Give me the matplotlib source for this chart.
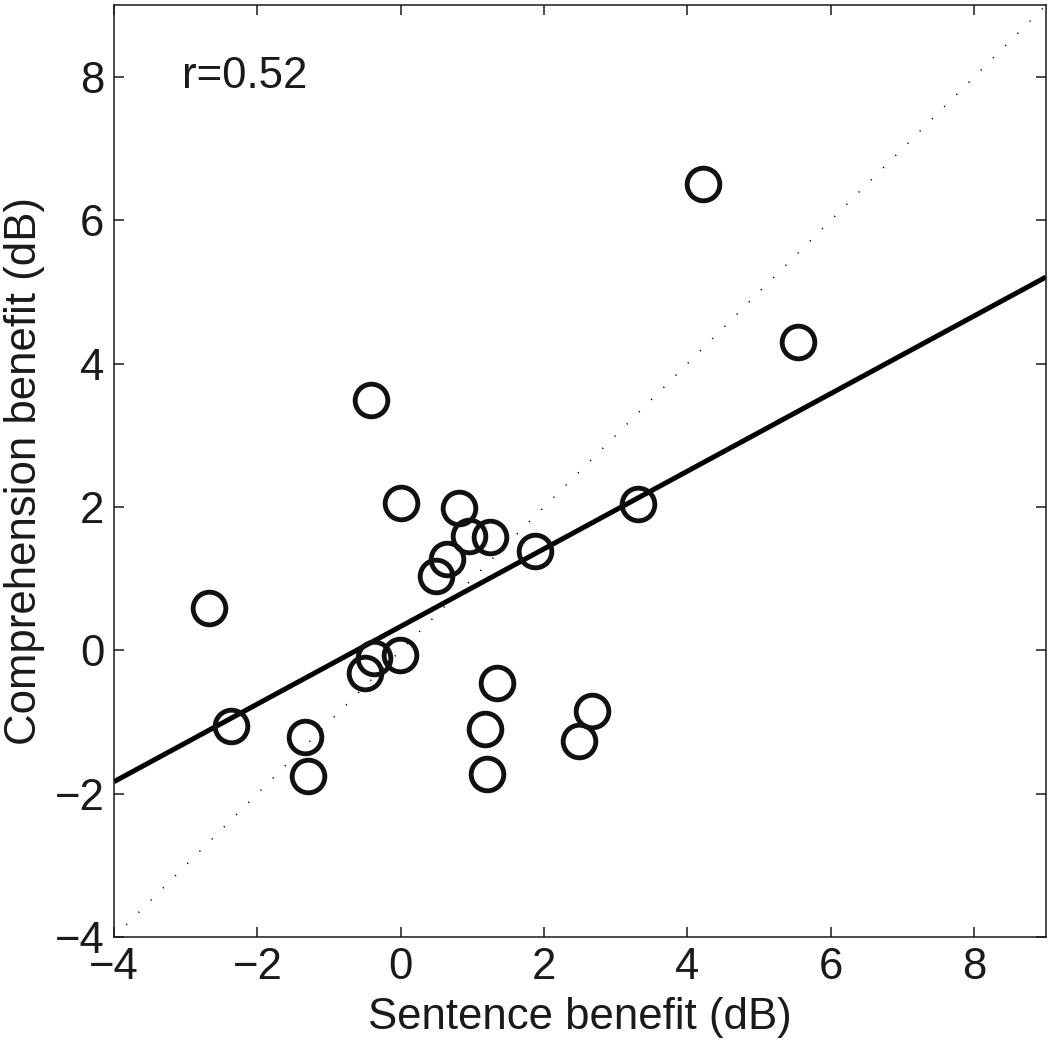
import numpy as np
import matplotlib
matplotlib.use("Agg")
import matplotlib.pyplot as plt

plt.rcParams['font.family'] = ['Liberation Sans', 'DejaVu Sans']

sentence_benefit = [4.21, 5.54, -0.42, 0.00, 0.81, 0.95, 1.25, 0.65, 0.49, 1.87, 3.31,
                    -2.67, -2.37, -1.34, -1.30, -0.50, -0.37, -0.01, 1.34, 1.18, 1.21,
                    2.48, 2.67]
comprehension_benefit = [6.51, 4.30, 3.49, 2.06, 1.99, 1.60, 1.58, 1.27, 1.03, 1.38, 2.04,
                         0.59, -1.06, -1.21, -1.76, -0.31, -0.11, -0.07, -0.45, -1.10, -1.72,
                         -1.26, -0.84]
ticks = [-4, -2, 0, 2, 4, 6, 8]
r_label = "r=0.52"

x = np.array(sentence_benefit)
y = np.array(comprehension_benefit)

fig = plt.figure(figsize=(10.49, 10.50), dpi=100)
ax = fig.add_axes([0.1087, 0.1076, 0.8883, 0.8874])
lims = (-4, 9)

# identity line
ax.plot(lims, lims, color='black', lw=1.1, linestyle=(0, (0.8, 10.5)), zorder=1)

# regression line
slope, intercept = np.polyfit(x, y, 1)
xs = np.array(lims)
ax.plot(xs, slope * xs + intercept, color='black', lw=3.6, solid_capstyle='butt', zorder=2)

ax.plot(x, y, linestyle='none', marker='o', markersize=23.5, markerfacecolor='none',
        markeredgecolor='#111111', markeredgewidth=3.5, zorder=3)

ax.set_xlim(lims)
ax.set_ylim(lims)
ax.set_xticks(ticks)
ax.set_yticks(ticks)
ax.set_xticklabels([str(t).replace('-', '\u2212') for t in ticks])
ax.set_yticklabels([str(t).replace('-', '\u2212') for t in ticks])
ax.tick_params(direction='in', length=7, width=1.1, top=True, right=True,
               labelsize=31.5, pad=7, colors='#1a1a1a')
for s in ax.spines.values():
    s.set_linewidth(1.1)
    s.set_color('#1a1a1a')

ax.set_xlabel("Sentence benefit (dB)", fontsize=31.5, labelpad=7, color='#1a1a1a')
ax.set_ylabel("Comprehension benefit (dB)", fontsize=31.5, labelpad=7, color='#1a1a1a')
ax.text(-3.05, 8.0, r_label, fontsize=31.5, ha='left', va='center', color='#1a1a1a')

fig.savefig("out.png", dpi=100)
